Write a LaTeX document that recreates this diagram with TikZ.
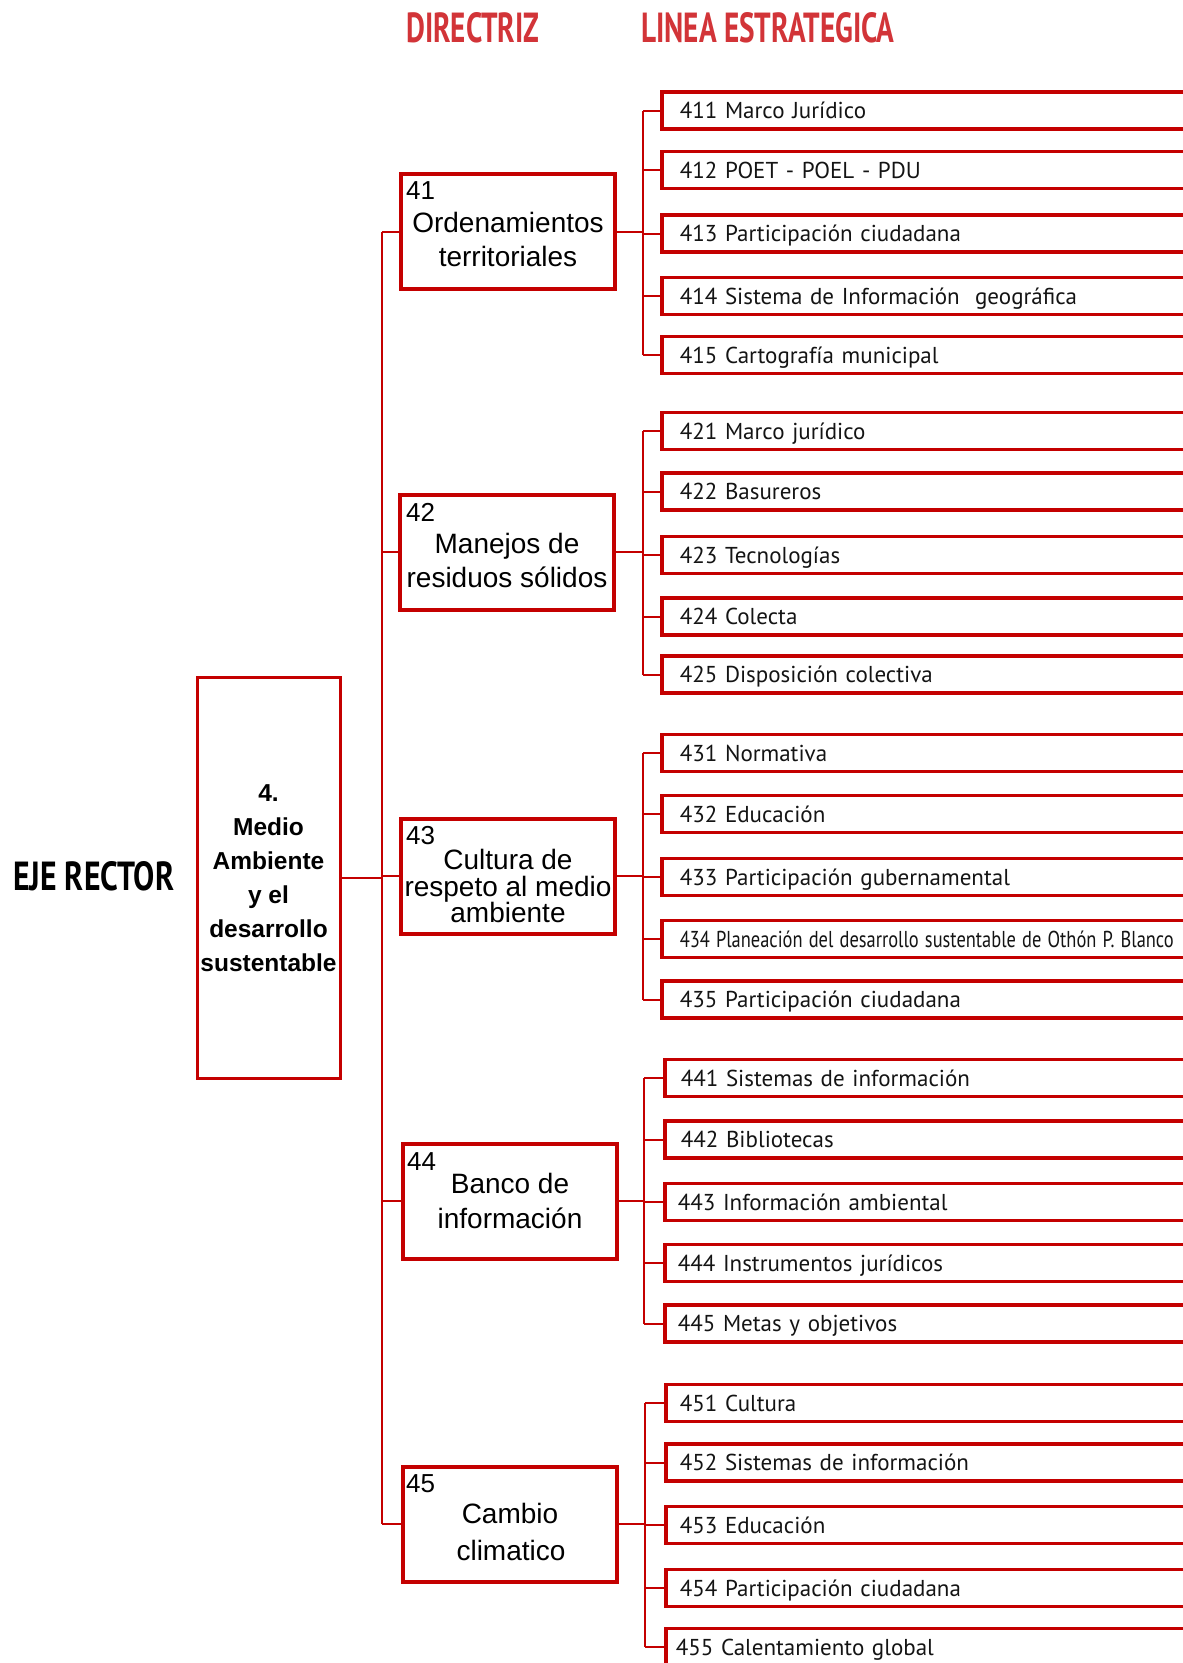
\documentclass[tikz,border=0pt]{standalone}
\usepackage{fontspec}
\setmainfont{Liberation Sans}
\newfontfamily\myriad{PT Sans}
\definecolor{boxred}{RGB}{196,0,0}
\definecolor{titred}{RGB}{210,52,56}
\definecolor{ink}{RGB}{20,20,20}
\begin{document}
\begin{tikzpicture}[x=1pt,y=-1pt,
  conn/.style={draw=boxred, line width=2pt},
  mainbox/.style={draw=boxred, line width=3pt, minimum width=143pt, minimum height=401pt, inner sep=0pt, align=center, font=\fontsize{24.5}{34}\selectfont\bfseries},
  dirbox/.style={draw=boxred, line width=4pt, minimum width=214pt, minimum height=115pt, inner sep=0pt},
  dirnum/.style={anchor=base west, inner sep=0pt, font=\fontsize{26}{30}\selectfont},
  dirline/.style={anchor=base, inner sep=0pt, font=\fontsize{28}{34}\selectfont},
  subbox/.style={draw=boxred, line width=3.5pt, anchor=west, minimum height=37pt, text width=560pt, inner xsep=18pt, inner ysep=0pt, align=left, text height=16pt, text depth=0pt, font=\myriad\fontsize{23}{27}\selectfont, text=ink},
  title/.style={anchor=base west, inner sep=0pt, font=\myriad\bfseries}
]
\useasboundingbox (0,0) rectangle (1183,1663);
\clip (0,0) rectangle (1183,1663);
\fill[white] (0,0) rectangle (1183,1663);

% titles
\node[title, text=titred] (tdir) at (406,42) {\resizebox{133pt}{30pt}{DIRECTRIZ}};
\node[title, text=titred] (tlin) at (641,42) {\resizebox{253pt}{30pt}{LINEA ESTRATEGICA}};
\node[title, text=black] (teje) at (13,890) {\resizebox{161pt}{29pt}{EJE RECTOR}};

% main box
\node[mainbox] (eje) at (268.5,878) {4.\\Medio\\Ambiente\\y el\\desarrollo\\sustentable};

% directriz boxes
\node[dirbox] (d41) at (508,231.5) {};
\node[dirbox] (d42) at (507,552) {};
\node[dirbox] (d43) at (508,876) {};
\node[dirbox] (d44) at (510,1201) {};
\node[dirbox] (d45) at (510,1524) {};

\node[dirnum] (n41) at (406,199) {41};
\node[dirline] (a41) at (508,232) {Ordenamientos};
\node[dirline] (b41) at (508,266) {territoriales};

\node[dirnum] (n42) at (406,521) {42};
\node[dirline] (a42) at (507,553) {Manejos de};
\node[dirline] (b42) at (507,587) {residuos sólidos};

\node[dirnum] (n43) at (406,844) {43};
\node[dirline] (a43) at (508,869) {Cultura de};
\node[dirline] (b43) at (508,896) {respeto al medio};
\node[dirline] (c43) at (508,922) {ambiente};

\node[dirnum] (n44) at (407,1170) {44};
\node[dirline] (a44) at (510,1193) {Banco de};
\node[dirline] (b44) at (510,1228) {información};

\node[dirnum] (n45) at (406,1492) {45};
\node[dirline] (a45) at (510,1523) {Cambio};
\node[dirline] (b45) at (511,1560) {climatico};

% main trunk
\coordinate (mt1) at (382,231.5);
\coordinate (mt5) at (382,1524);
\draw[conn] (mt1) -- (mt5);
\draw[conn] (eje.east) -- (eje.east -| mt1);
\foreach \d in {d41,d42,d43,d44,d45}{
  \draw[conn] (\d.west) -- (\d.west -| mt1);
}

% sub boxes group 41
\node[subbox] (s411) at (660,110.5) {411 Marco Jurídico};
\node[subbox] (s412) at (660,170) {412 POET - POEL - PDU};
\node[subbox] (s413) at (660,233.5) {413 Participación ciudadana};
\node[subbox] (s414) at (660,296) {414 Sistema de Información\ \ geográfica};
\node[subbox] (s415) at (660,355) {415 Cartografía municipal};
% group 42
\node[subbox] (s421) at (660,431) {421 Marco jurídico};
\node[subbox] (s422) at (660,491.5) {422 Basureros};
\node[subbox] (s423) at (660,555) {423 Tecnologías};
\node[subbox] (s424) at (660,616.5) {424 Colecta};
\node[subbox] (s425) at (660,674.5) {425 Disposición colectiva};
% group 43
\node[subbox] (s431) at (660,753) {431 Normativa};
\node[subbox] (s432) at (660,814) {432 Educación};
\node[subbox] (s433) at (660,877) {433 Participación gubernamental};
\node[subbox] (s434) at (660,939) {\resizebox{494pt}{\height}{434 Planeación del desarrollo sustentable de Othón P. Blanco}};
\node[subbox] (s435) at (660,999.5) {435 Participación ciudadana};
% group 44
\node[subbox, inner xsep=16pt] (s441) at (663,1078) {441 Sistemas de información};
\node[subbox, inner xsep=16pt] (s442) at (663,1139.5) {442 Bibliotecas};
\node[subbox, inner xsep=13pt] (s443) at (663,1202) {443 Información ambiental};
\node[subbox, inner xsep=13pt] (s444) at (663,1263) {444 Instrumentos jurídicos};
\node[subbox, inner xsep=13pt] (s445) at (663,1323.5) {445 Metas y objetivos};
% group 45
\node[subbox, inner xsep=14pt] (s451) at (664,1403) {451 Cultura};
\node[subbox, inner xsep=14pt] (s452) at (664,1462.5) {452 Sistemas de información};
\node[subbox, inner xsep=14pt] (s453) at (664,1525) {453 Educación};
\node[subbox, inner xsep=14pt] (s454) at (664,1588) {454 Participación ciudadana};
\node[subbox, inner xsep=10pt] (s455) at (664,1647) {455 Calentamiento global};

% sub trunks
\foreach \g/\x in {41/643,42/643,43/643,44/644,45/645}{
  \coordinate (t\g) at (\x,0);
  \draw[conn] (s\g1.west -| t\g) -- (s\g5.west -| t\g);
  \draw[conn] (d\g.east) -- (d\g.east -| t\g);
  \foreach \k in {1,...,5}{
    \draw[conn] (s\g\k.west -| t\g) -- (s\g\k.west);
  }
}
\end{tikzpicture}
\end{document}
